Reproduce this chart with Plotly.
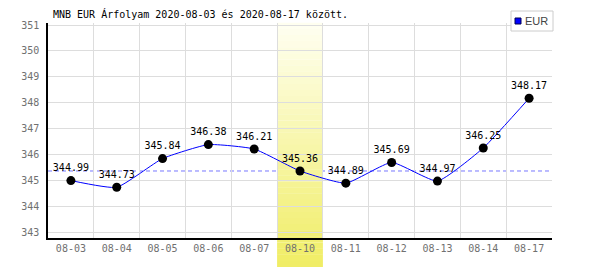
import plotly.graph_objects as go

dates = ["08-03", "08-04", "08-05", "08-06", "08-07", "08-10",
         "08-11", "08-12", "08-13", "08-14", "08-17"]
eur = [344.99, 344.73, 345.84, 346.38, 346.21, 345.36,
       344.89, 345.69, 344.97, 346.25, 348.17]
highlight_idx = 5
series_name = "EUR"
title_text = "MNB EUR Árfolyam 2020-08-03 és 2020-08-17 között."
y_ticks = [343, 344, 345, 346, 347, 348, 349, 350, 351]

MONO = "DejaVu Sans Mono"
W, H = 600, 270
L, R, T, B = 48, 48, 23, 32
PW, PH = W - L - R, H - T - B


def px_x(p):
    return (p - L) / PW


def px_y(p):
    return (H - B - p) / PH


fig = go.Figure()

fig.add_trace(go.Scatter(
    x=dates, y=eur, mode="lines+markers+text",
    line=dict(color="#0000ff", width=1, shape="spline", smoothing=0.45),
    marker=dict(color="black", size=9),
    text=[f"{v:.2f}" for v in eur],
    textposition="top center",
    textfont=dict(family=MONO, size=10, color="black"),
    cliponaxis=False,
    showlegend=False, hoverinfo="skip", name=series_name,
))

shapes = []
shapes.append(dict(type="line", xref="paper", yref="y", x0=0, x1=1,
                   y0=eur[highlight_idx], y1=eur[highlight_idx],
                   line=dict(color="#7878ff", width=1, dash="4px,3px"),
                   layer="between"))
n = 40
top_c = (255, 255, 242)
bot_c = (240, 237, 100)
y_top, y_bot = 1.0, px_y(267)
for k in range(n):
    t = (k + 0.5) / n
    c = tuple(int(round(top_c[j] + (bot_c[j] - top_c[j]) * t)) for j in range(3))
    y0 = y_top + (y_bot - y_top) * k / n
    y1 = y_top + (y_bot - y_top) * (k + 1) / n
    shapes.append(dict(type="rect", xref="x", yref="paper",
                       x0=highlight_idx - 0.5, x1=highlight_idx + 0.5,
                       y0=y1, y1=y0 + 0.001,
                       fillcolor=f"rgb{c}", line=dict(width=0),
                       layer="between"))

shapes.append(dict(type="rect", xref="paper", yref="paper",
                   x0=px_x(511), x1=px_x(553), y0=px_y(31), y1=px_y(11),
                   fillcolor="white", line=dict(color="#cccccc", width=1),
                   layer="above"))
shapes.append(dict(type="rect", xref="paper", yref="paper",
                   x0=px_x(515), x1=px_x(521), y0=px_y(24), y1=px_y(18),
                   fillcolor="#0000ff", line=dict(color="#000055", width=1),
                   layer="above"))

annotations = [dict(text=series_name, xref="paper", yref="paper",
                    x=px_x(523), y=px_y(21), xanchor="left", yanchor="middle",
                    showarrow=False,
                    font=dict(family="Liberation Sans", size=11, color="#444444"))]

fig.update_layout(
    width=W, height=H,
    margin=dict(l=L, r=R, t=T, b=B),
    paper_bgcolor="white", plot_bgcolor="white",
    title=dict(text=title_text, x=53 / W, xanchor="left",
               y=1 - 14 / H, yanchor="middle",
               font=dict(family=MONO, size=10, color="black")),
    showlegend=False,
    shapes=shapes,
    annotations=annotations,
    xaxis=dict(type="category", range=[-0.5, len(dates) - 0.5],
               tickson="boundaries", ticks="", showgrid=True,
               gridcolor="#dddddd", gridwidth=1,
               showline=True, linecolor="black", linewidth=1.5,
               tickfont=dict(family=MONO, size=10, color="#707070"),
               zeroline=False, fixedrange=True),
    yaxis=dict(range=[342.77, 351.08], tickvals=y_ticks,
               ticks="", showgrid=True, gridcolor="#dddddd", gridwidth=1,
               showline=True, linecolor="black", linewidth=1.5,
               tickfont=dict(family=MONO, size=10, color="#707070"),
               zeroline=False, fixedrange=True, ticklabelstandoff=5),
)

fig.write_html("out.html")
